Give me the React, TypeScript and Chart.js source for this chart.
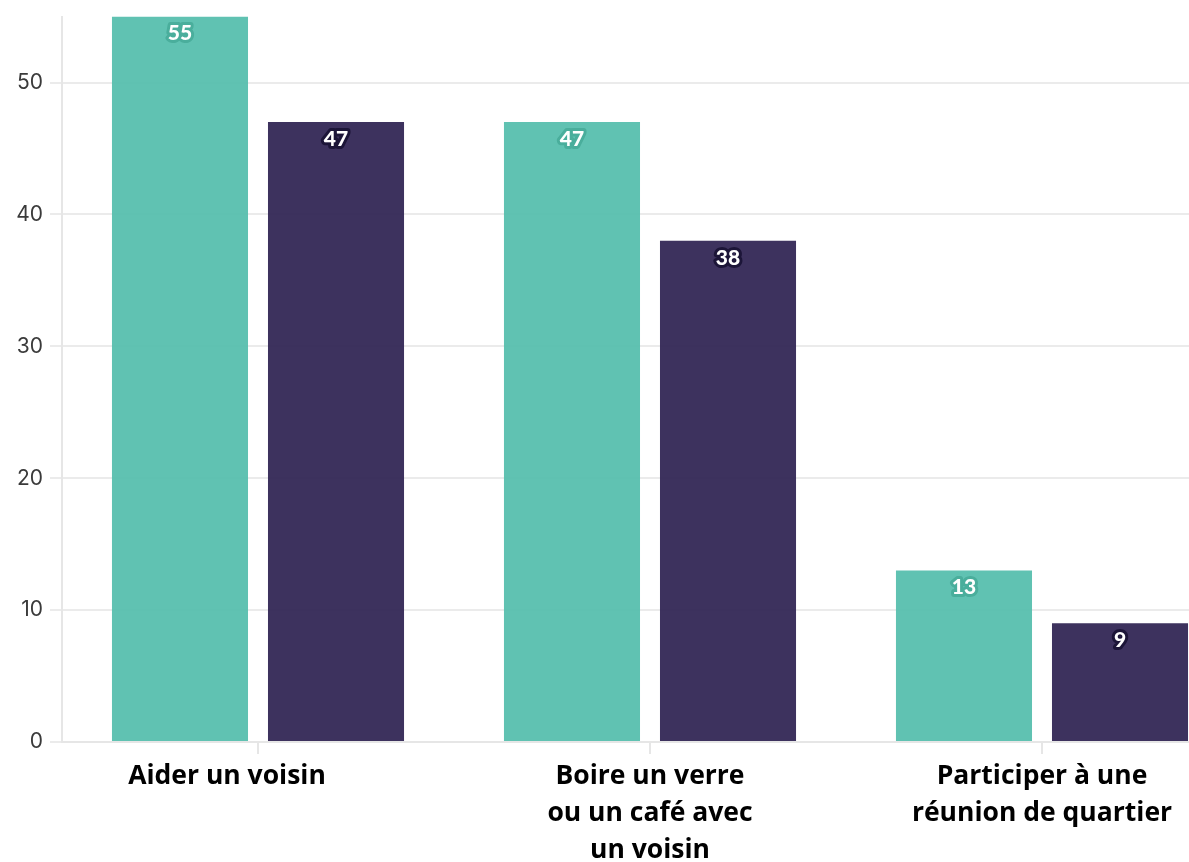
import React, { useEffect, useRef } from "react";
import { Chart, registerables } from "chart.js";

Chart.register(...registerables);

const categories: (string | string[])[] = [
  ["Aider un voisin\u00A0\u00A0\u00A0\u00A0\u00A0\u00A0\u00A0\u00A0\u00A0"],
  ["Boire un verre", "ou un café avec", "un voisin"],
  ["Participer à une", "réunion de quartier"],
];
const seriesA = [55, 47, 13];
const seriesB = [47, 38, 9];
const yTicks = [0, 10, 20, 30, 40, 50];

const CW = 1240;
const CH = 884;
const SHIFT = 3;

const valueLabels = {
  id: "valueLabels",
  afterDatasetsDraw(chart: any) {
    const ctx = chart.ctx;
    const strokes = ["#4aae9c", "#1c1538"];
    chart.data.datasets.forEach((ds: any, di: number) => {
      const meta = chart.getDatasetMeta(di);
      meta.data.forEach((el: any, i: number) => {
        const v = ds.data[i];
        ctx.save();
        ctx.font = "900 21px Lato";
        ctx.textAlign = "center";
        ctx.textBaseline = "middle";
        ctx.lineJoin = "round";
        ctx.lineWidth = 6;
        ctx.strokeStyle = strokes[di];
        ctx.strokeText(String(v), el.x, el.y + 17);
        ctx.fillStyle = "#ffffff";
        ctx.fillText(String(v), el.x, el.y + 17);
        ctx.restore();
      });
    });
  },
};

export default function App() {
  const ref = useRef<HTMLCanvasElement>(null);
  useEffect(() => {
    if (!ref.current) return;
    const chart = new Chart(ref.current, {
      type: "bar",
      data: {
        labels: categories as any,
        datasets: [
          {
            label: "A",
            data: seriesA,
            backgroundColor: "rgba(82,189,171,0.92)",
            categoryPercentage: 0.796,
            barPercentage: 0.872,
          },
          {
            label: "B",
            data: seriesB,
            backgroundColor: "rgba(44,33,80,0.92)",
            categoryPercentage: 0.796,
            barPercentage: 0.872,
          },
        ],
      },
      options: {
        responsive: false,
        animation: false,
        layout: { padding: { top: 13, right: 2, left: 0, bottom: 0 } },
        plugins: {
          legend: { display: false },
          tooltip: { enabled: false },
        },
        scales: {
          x: {
            offset: true,
            grid: {
              offset: false,
              drawOnChartArea: false,
              color: "#e6e6e6",
              lineWidth: 2,
              tickLength: 12,
            },
            border: { color: "#e6e6e6", width: 2 },
            ticks: {
              color: "#000000",
              font: { family: "Open Sans", size: 26.5, weight: "bold", lineHeight: 1.4 },
              padding: 4,
              maxRotation: 0,
              autoSkip: false,
            },
            afterFit(scale: any) {
              scale.height = CH - 742 - SHIFT;
            },
          },
          y: {
            min: 0,
            max: 55,
            grid: { color: "#ebebeb", lineWidth: 2, tickLength: 12 },
            border: { color: "#e6e6e6", width: 2 },
            ticks: {
              color: "#3a3a3a",
              font: { family: "Inter", size: 21 },
              padding: 7,
            },
            afterBuildTicks(scale: any) {
              scale.ticks = yTicks.map((v) => ({ value: v }));
            },
            afterFit(scale: any) {
              scale.width = 62;
            },
          },
        },
      },
      plugins: [valueLabels],
    });
    return () => chart.destroy();
  }, []);
  return (
    <div
      style={{
        position: "fixed",
        left: 0,
        top: 0,
        width: 1189,
        height: 862,
        overflow: "hidden",
        background: "#fff",
      }}
    >
      <canvas
        ref={ref}
        width={CW}
        height={CH}
        style={{ width: CW, height: CH, display: "block", marginTop: -SHIFT }}
      />
    </div>
  );
}
